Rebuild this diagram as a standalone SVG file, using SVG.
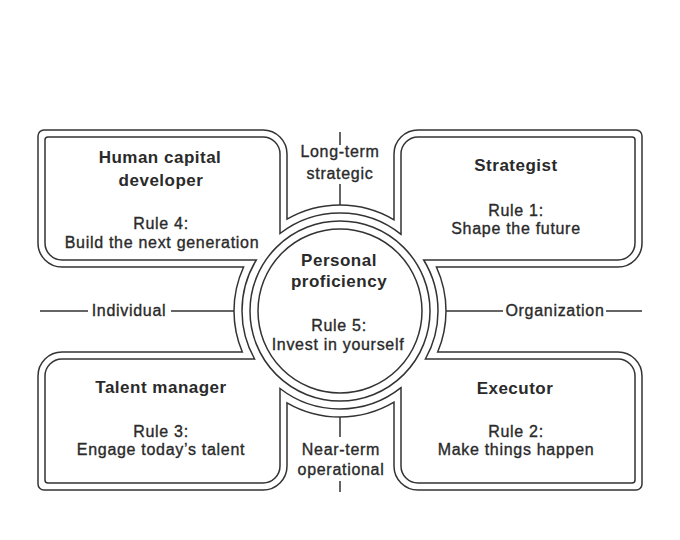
<svg xmlns="http://www.w3.org/2000/svg" width="680" height="540" viewBox="0 0 680 540">
<style>
.ln{fill:none;stroke:#333;stroke-width:1.5}
.t{font-family:"Liberation Sans",Arial,sans-serif;font-weight:bold;font-size:17px;letter-spacing:0.5px;fill:#2a2a2a;text-anchor:middle}
.r{font-family:"Liberation Sans",Arial,sans-serif;font-size:16px;letter-spacing:0.7px;fill:#2a2a2a;stroke:#2a2a2a;stroke-width:0.35px;text-anchor:middle}
</style>
<rect width="680" height="540" fill="#fff"/>
<g id="connectors">
<path class="ln" d="M40,311 H88 M171,311 H234 M446,311 H503 M606,311 H642"/>
<path class="ln" d="M340,132 V145 M340,184 V205 M340,417 V437 M340,481 V492"/>
<text class="r" x="129" y="316">Individual</text>
<text class="r" x="555" y="316">Organization</text>
<text class="r" x="340" y="157">Long-term</text>
<text class="r" x="340" y="179">strategic</text>
<text class="r" x="341" y="455">Near-term</text>
<text class="r" x="341" y="475">operational</text>
</g>
<g id="human-capital-developer">
<path class="ln" d="M234,311 A106,106 0 0 1 243.6,267 L62,267 A24,24 0 0 1 38,243 L38,136 A6,6 0 0 1 44,130 L263,130 A24,24 0 0 1 287,154 L287,219.2 A106,106 0 0 1 340,205"/>
<path class="ln" d="M242,311 A98,98 0 0 1 256.3,260 L62,260 A17,17 0 0 1 45,243 L45,140 A3,3 0 0 1 48,137 L263,137 A17,17 0 0 1 280,154 L280,233.5 A98,98 0 0 1 340,213"/>
<text class="t" x="160" y="163">Human capital</text>
<text class="t" x="161" y="186">developer</text>
<text class="r" x="161" y="229">Rule 4:</text>
<text class="r" x="162" y="248">Build the next generation</text>
</g>
<g id="strategist">
<path class="ln" d="M340,205 A106,106 0 0 1 394,219.8 L394,154 A24,24 0 0 1 418,130 L636,130 A6,6 0 0 1 642,136 L642,243 A24,24 0 0 1 618,267 L436.4,267 A106,106 0 0 1 446,311"/>
<path class="ln" d="M340,213 A98,98 0 0 1 401,234.3 L401,154 A17,17 0 0 1 418,137 L632,137 A3,3 0 0 1 635,140 L635,243 A17,17 0 0 1 618,260 L423.7,260 A98,98 0 0 1 438,311"/>
<text class="t" x="516" y="171">Strategist</text>
<text class="r" x="516" y="216">Rule 1:</text>
<text class="r" x="516" y="234">Shape the future</text>
</g>
<g id="executor">
<path class="ln" d="M446,311 A106,106 0 0 1 437.7,352 L618,352 A24,24 0 0 1 642,376 L642,484 A6,6 0 0 1 636,490 L418,490 A24,24 0 0 1 394,466 L394,402.2 A106,106 0 0 1 340,417"/>
<path class="ln" d="M438,311 A98,98 0 0 1 425.4,359 L618,359 A17,17 0 0 1 635,376 L635,480 A3,3 0 0 1 632,483 L418,483 A17,17 0 0 1 401,466 L401,387.7 A98,98 0 0 1 340,409"/>
<text class="t" x="515" y="394">Executor</text>
<text class="r" x="516" y="437">Rule 2:</text>
<text class="r" x="516" y="455">Make things happen</text>
</g>
<g id="talent-manager">
<path class="ln" d="M340,417 A106,106 0 0 1 287,402.8 L287,466 A24,24 0 0 1 263,490 L44,490 A6,6 0 0 1 38,484 L38,376 A24,24 0 0 1 62,352 L242.3,352 A106,106 0 0 1 234,311"/>
<path class="ln" d="M340,409 A98,98 0 0 1 280,388.5 L280,466 A17,17 0 0 1 263,483 L48,483 A3,3 0 0 1 45,480 L45,376 A17,17 0 0 1 62,359 L254.6,359 A98,98 0 0 1 242,311"/>
<text class="t" x="161" y="393">Talent manager</text>
<text class="r" x="161" y="437">Rule 3:</text>
<text class="r" x="161" y="455">Engage today’s talent</text>
</g>
<g id="personal-proficiency">
<circle class="ln" cx="340" cy="311" r="90"/>
<circle class="ln" cx="340" cy="311" r="82"/>
<text class="t" x="339" y="266">Personal</text>
<text class="t" x="339" y="287">proficiency</text>
<text class="r" x="339" y="331">Rule 5:</text>
<text class="r" x="338" y="350">Invest in yourself</text>
</g>
</svg>
